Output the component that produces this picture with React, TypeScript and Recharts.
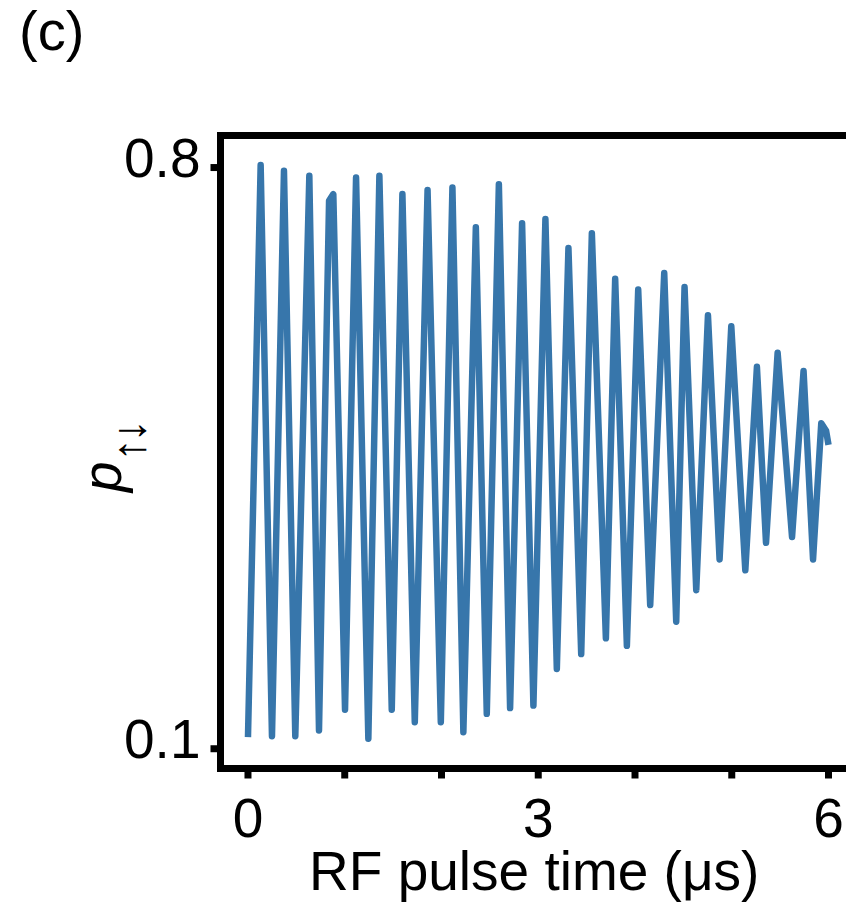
import React from 'react';
import { LineChart, Line, XAxis, YAxis, ReferenceArea } from 'recharts';

// RF pulse time (μs)
const timeUs = [
  0.0, 0.131, 0.248, 0.372, 0.489, 0.634, 0.734, 0.838, 0.882, 1.003,
  1.117, 1.244, 1.358, 1.486, 1.596, 1.724, 1.856, 1.993, 2.113, 2.226,
  2.355, 2.468, 2.593, 2.709, 2.833, 2.95, 3.074, 3.192, 3.312, 3.444,
  3.554, 3.699, 3.795, 3.916, 4.033, 4.157, 4.302, 4.426, 4.512, 4.633,
  4.754, 4.874, 4.995, 5.14, 5.26, 5.354, 5.474, 5.623, 5.742, 5.84,
  5.925, 5.975, 6.0,
];

// p↑↓
const pUpDown = [
  0.114, 0.803, 0.115, 0.796, 0.115, 0.79, 0.122, 0.76, 0.768, 0.147,
  0.788, 0.112, 0.79, 0.147, 0.768, 0.132, 0.773, 0.132, 0.776, 0.12,
  0.728, 0.142, 0.78, 0.149, 0.733, 0.152, 0.738, 0.196, 0.703, 0.214,
  0.721, 0.233, 0.666, 0.224, 0.653, 0.273, 0.673, 0.253, 0.656, 0.291,
  0.622, 0.328, 0.609, 0.315, 0.56, 0.348, 0.577, 0.355, 0.555, 0.328,
  0.492, 0.483, 0.466,
];

const xTicks = [0, 1, 2, 3, 4, 5, 6];
const xTickLabels = [0, 3, 6];
const yTicks = [0.1, 0.8];
const xDomain: [number, number] = [-0.284, 6.284];
const yDomain: [number, number] = [0.0762, 0.8386];
const panelLabel = '(c)';
const xTitle = 'RF pulse time (μs)';
const yTitleMain = 'p';
const yTitleSub = '↑↓';

const data = timeUs.map((t, i) => ({ t, p: pUpDown[i] }));

const FONT = '"Liberation Sans", Arial, Helvetica, sans-serif';
const LINE_COLOR = '#3776ab';

function XTick(props: any) {
  const { x, y, payload } = props;
  if (!xTickLabels.includes(payload.value)) return <g />;
  return (
    <text x={x} y={y} dy={58} textAnchor="middle" fontFamily={FONT} fontSize={55} fill="#000">
      {String(payload.value)}
    </text>
  );
}

function YTick(props: any) {
  const { x, y, payload } = props;
  return (
    <text x={x} y={y} dy={9.5} textAnchor="end" fontFamily={FONT} fontSize={55} fill="#000">
      {Number(payload.value).toFixed(1)}
    </text>
  );
}

function XTitle(props: any) {
  const vb = props.viewBox || { x: 220.5, y: 768.5, width: 635.5, height: 137.5 };
  const cx = vb.x + vb.width / 2 - 4;
  const cy = vb.y + 121;
  return (
    <text x={cx} y={cy} textAnchor="middle" fontFamily={FONT} fontSize={55} fill="#000">
      {xTitle}
    </text>
  );
}

function YTitle(props: any) {
  const vb = props.viewBox || { x: 0, y: 135.5, width: 220.5, height: 633 };
  const cx = vb.x + 120.5;
  const cy = vb.y + vb.height / 2 + 40;
  return (
    <text
      x={cx}
      y={cy}
      transform={`rotate(-90 ${cx} ${cy})`}
      fontFamily={FONT}
      fontSize={55}
      fill="#000"
    >
      <tspan fontStyle="italic">{yTitleMain}</tspan>
      <tspan fontSize={46} dy={24} letterSpacing={-4}>{yTitleSub}</tspan>
    </text>
  );
}

export default function App() {
  return (
    <div
      style={{
        position: 'absolute',
        left: 0,
        top: 0,
        width: 846,
        height: 906,
        overflow: 'hidden',
        background: '#fff',
      }}
    >
      <LineChart
        width={880}
        height={906}
        data={data}
        margin={{ top: 135.5, right: 24, bottom: 0, left: 0 }}
      >
        <XAxis
          dataKey="t"
          type="number"
          domain={xDomain}
          ticks={xTicks}
          allowDataOverflow
          axisLine={false}
          tickLine={{ stroke: '#000', strokeWidth: 7 }}
          tickSize={10}
          tickMargin={0}
          height={137.5}
          tick={<XTick />}
          interval={0}
          label={<XTitle />}
        />
        <YAxis
          type="number"
          domain={yDomain}
          ticks={yTicks}
          allowDataOverflow
          axisLine={false}
          tickLine={{ stroke: '#000', strokeWidth: 7 }}
          tickSize={10}
          tickMargin={10}
          width={220.5}
          tick={<YTick />}
          interval={0}
          label={<YTitle />}
        />
        <ReferenceArea
          x1={xDomain[0]}
          x2={xDomain[1]}
          y1={yDomain[0]}
          y2={yDomain[1]}
          fill="none"
          fillOpacity={0}
          stroke="#000"
          strokeWidth={7}
          ifOverflow="visible"
        />
        <Line
          type="linear"
          dataKey="p"
          stroke={LINE_COLOR}
          strokeWidth={6.5}
          strokeLinejoin="round"
          dot={false}
          activeDot={false}
          isAnimationActive={false}
        />
      </LineChart>
      <svg
        width={846}
        height={906}
        style={{ position: 'absolute', left: 0, top: 0, pointerEvents: 'none' }}
      >
        <text x={19} y={49.5} fontFamily={FONT} fontSize={56} fill="#000">
          {panelLabel}
        </text>
      </svg>
    </div>
  );
}
